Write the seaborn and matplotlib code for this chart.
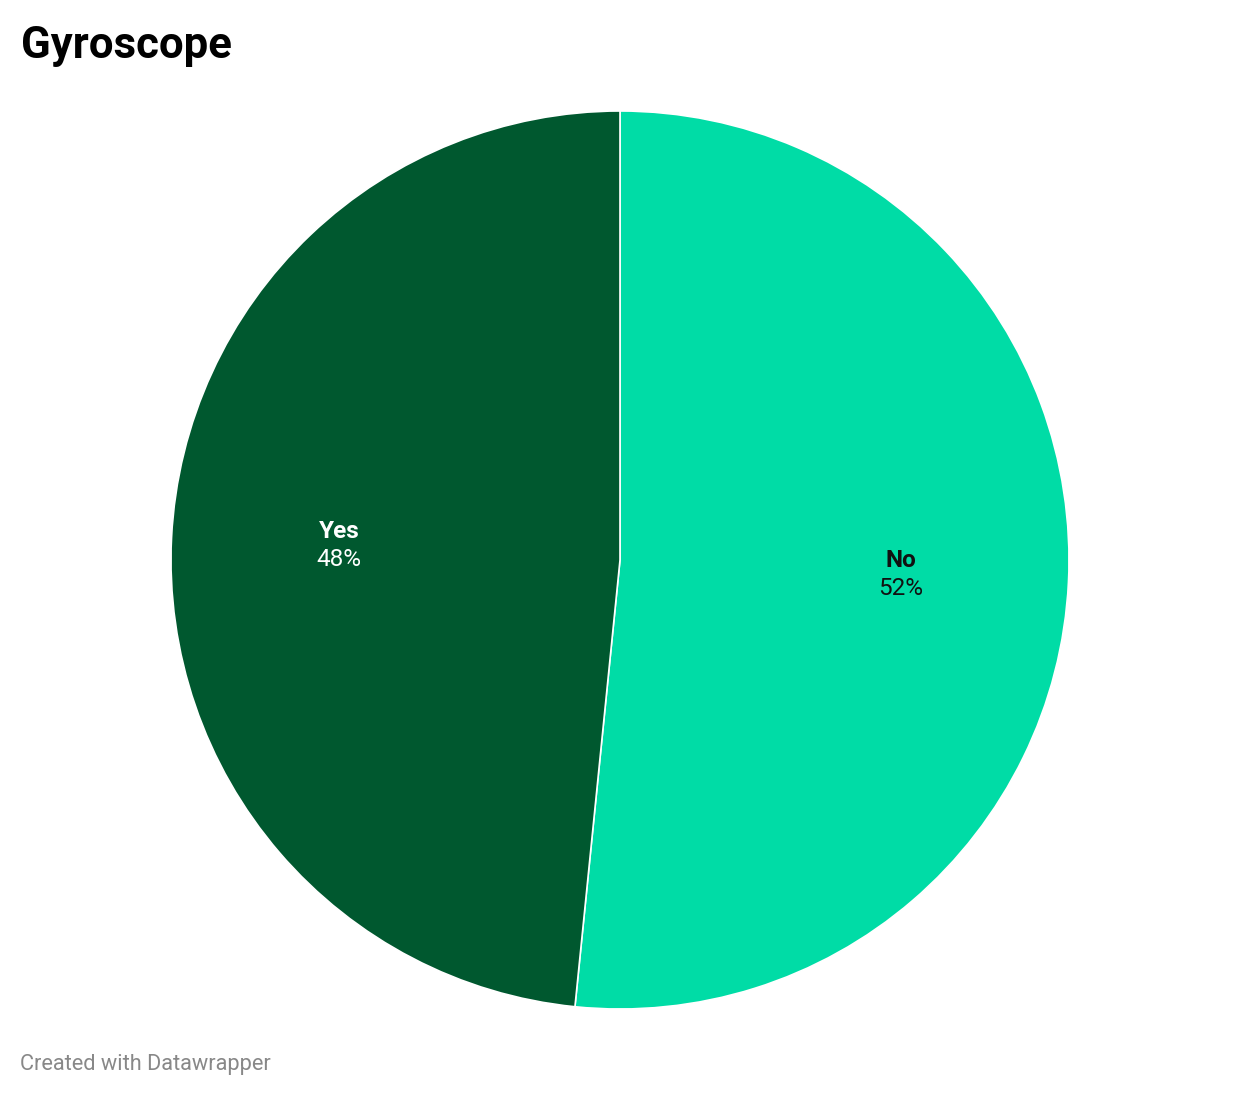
import numpy as np
import matplotlib.pyplot as plt
import seaborn as sns

# data
labels = ['No', 'Yes']
shares = [51.6, 48.4]
pct_text = ['52%', '48%']
colors = ['#00dca6', '#00582f']
text_colors = ['#111111', '#ffffff']

sns.set_theme(style="white")
plt.rcParams['font.family'] = ['Roboto', 'DejaVu Sans']

fig = plt.figure(figsize=(12.4, 10.96), dpi=100)
fig.patch.set_facecolor('white')

# centre (620, 560) px, radius 449 px
cx, cy, r = 620, 560, 449
W, H = 1240, 1096
ax = fig.add_axes([(cx - r) / W, (H - cy - r) / H, 2 * r / W, 2 * r / H])

wedges, _ = ax.pie(shares, colors=colors, startangle=90, counterclock=False,
                   radius=1, wedgeprops=dict(edgecolor='white', linewidth=1.2))
ax.set_xlim(-1, 1)
ax.set_ylim(-1, 1)
ax.set_aspect('equal')
ax.axis('off')

for w, lab, pt, tc in zip(wedges, labels, pct_text, text_colors):
    mid = np.deg2rad((w.theta1 + w.theta2) / 2)
    x, y = 0.626 * np.cos(mid), 0.626 * np.sin(mid)
    ax.text(x, y + 0.031, lab, ha='center', va='center', fontsize=17.5,
            fontweight='bold', color=tc)
    ax.text(x, y - 0.031, pt, ha='center', va='center', fontsize=17.5,
            color=tc)

fig.text(21 / W, 1 - 58 / H, 'Gyroscope', ha='left', va='baseline',
         fontsize=31.5, fontweight='bold', color='#000000')
fig.text(20 / W, 1 - 1070 / H, 'Created with Datawrapper', ha='left',
         va='baseline', fontsize=15.7, color='#888888')

fig.savefig('out.png', dpi=100, facecolor='white')
